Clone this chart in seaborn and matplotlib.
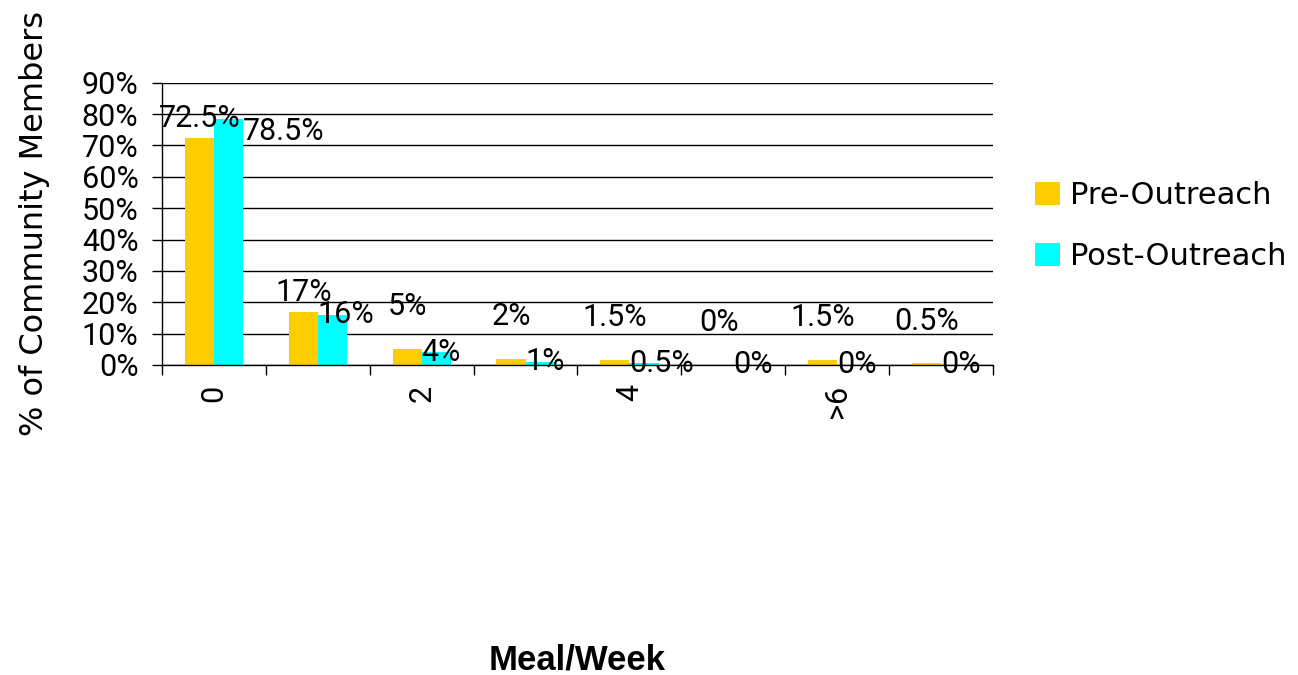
import numpy as np
import pandas as pd
import seaborn as sns
import matplotlib.pyplot as plt
from matplotlib.ticker import MultipleLocator, FuncFormatter

# Meal/Week survey data (percent of community members)
categories = ['0', '1', '2', '3', '4', '5', '>6', 'Unknown']
pre_outreach = [72.5, 17, 5, 2, 1.5, 0, 1.5, 0.5]
post_outreach = [78.5, 16, 4, 1, 0.5, 0, 0, 0]
series_names = ['Pre-Outreach', 'Post-Outreach']
colors = ['#FFCC00', '#00FFFF']

df = pd.DataFrame({
    'Meal/Week': categories * 2,
    'Group': [series_names[0]] * len(categories) + [series_names[1]] * len(categories),
    'Percent': pre_outreach + post_outreach,
})

sns.set_style('white')
plt.rcParams['font.family'] = ['DejaVu Sans']
plt.rcParams['text.color'] = 'black'
plt.rcParams['axes.labelcolor'] = 'black'
plt.rcParams['xtick.color'] = 'black'
plt.rcParams['ytick.color'] = 'black'

fig, ax = plt.subplots(figsize=(12.98, 6.75), dpi=100)
fig.subplots_adjust(left=0.1248, right=0.765, bottom=0.4593, top=0.8775)

sns.barplot(data=df, x='Meal/Week', y='Percent', hue='Group', palette=colors,
            width=0.56, saturation=1, ax=ax, legend=False, errorbar=None,
            linewidth=0, edgecolor='none')

ax.set_xlim(-0.5, len(categories) - 0.5)
ax.set_ylim(0, 90)

# y axis
ax.yaxis.set_major_locator(MultipleLocator(10))
ax.yaxis.set_major_formatter(FuncFormatter(lambda v, p: f'{int(v)}%'))
ax.yaxis.grid(True, color='black', lw=1)
ax.set_axisbelow(True)
ax.tick_params(axis='y', direction='out', length=7, width=1, color='black', pad=10,
               left=True, labelsize=22, labelfontfamily='Roboto')

# x axis: labels every other category, ticks between categories
ax.set_xticks(range(0, len(categories), 2))
ax.set_xticklabels(categories[::2], rotation=90, fontsize=22, family='Roboto')
ax.set_xticks(np.arange(-0.5, len(categories), 1), minor=True)
ax.tick_params(axis='x', which='major', length=0, pad=14)
ax.tick_params(axis='x', which='minor', direction='out', length=7, width=1,
               color='black', bottom=True)

for side in ['top', 'right']:
    ax.spines[side].set_visible(False)
for side in ['left', 'bottom']:
    ax.spines[side].set_color('black')
    ax.spines[side].set_linewidth(1)

ax.set_ylabel('% of Community Members', fontsize=23)
ax.yaxis.label.set_va('center')
ax.yaxis.set_label_coords(-0.153, 0.5)
ax.set_xlabel('Meal/Week', fontsize=25, fontweight='bold', family='Liberation Sans')
ax.xaxis.label.set_va('center')
ax.xaxis.set_label_coords(0.5, -1.045)

# data labels: pre above its bar, post beside its bar
pre_bars, post_bars = ax.containers[0], ax.containers[1]
for pre_bar, post_bar, pv, qv in zip(pre_bars, post_bars, pre_outreach, post_outreach):
    pre_y = pv + (13.5 if pv < 10 else 6)
    ax.annotate(f'{pv:g}%', (pre_bar.get_x() + pre_bar.get_width() / 2, pre_y),
                ha='center', va='center', fontsize=22, family='Roboto')
    if abs(pre_y - qv) < 6:
        ax.annotate(f'{qv:g}%', (post_bar.get_x() + post_bar.get_width(), qv - 4),
                    ha='left', va='center', fontsize=22, family='Roboto')
    else:
        ax.annotate(f'{qv:g}%', (post_bar.get_x(), qv),
                    ha='left', va='center', fontsize=22, family='Roboto')

fig.legend([pre_bars, post_bars], series_names, loc='center left',
           bbox_to_anchor=(0.797, 0.665), frameon=False, fontsize=22,
           handlelength=0.82, handleheight=0.82, handletextpad=0.33,
           labelspacing=1.05, borderpad=0, borderaxespad=0)

plt.savefig('out.png', dpi=100)
